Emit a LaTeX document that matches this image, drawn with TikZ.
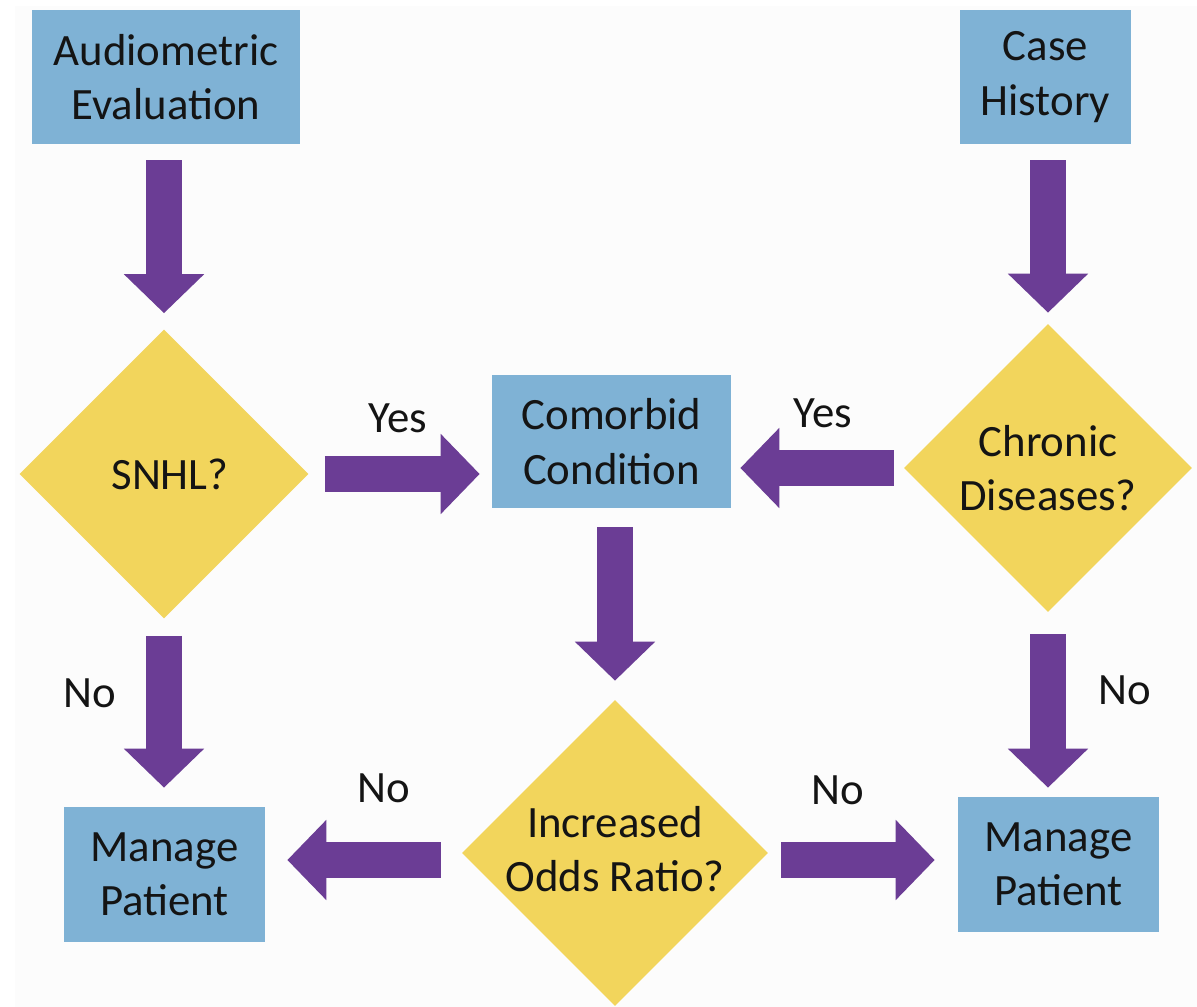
\documentclass[tikz,border=0pt]{standalone}
\usepackage{fontspec}
\setmainfont{Carlito}
\usetikzlibrary{shapes.geometric,arrows.meta}
\definecolor{boxblue}{HTML}{7FB2D5}
\definecolor{diayellow}{HTML}{F2D55C}
\definecolor{flowpurple}{HTML}{6B3D95}
\definecolor{pagegray}{HTML}{FCFCFC}

\begin{document}
\begin{tikzpicture}[x=0.02cm, y=-0.02cm,
        every node/.style={font=\fontsize{25.5}{31}\selectfont, text=black!92, align=center},
        stepbox/.style={fill=boxblue, inner sep=0pt},
        decision/.style={diamond, fill=diayellow, inner sep=0pt, minimum size=#1},
        flow/.style={draw=flowpurple, line width=0.72cm, -{Triangle[width=1.56cm,length=0.78cm]}}]
    \useasboundingbox (0,0) rectangle (1197,1007);
    \fill[pagegray] (0,0) rectangle (1197,1007);
    \fill[white] (0,0) rectangle (15,1007);
    \fill[white] (0,0) rectangle (1197,6);

    \node[stepbox, minimum width=5.36cm, minimum height=2.68cm] (audio) at (166,77) {Audiometric\\Evaluation};
    \node[stepbox, minimum width=3.42cm, minimum height=2.68cm] (history) at (1045.5,77) {Case\\History};
    \node[stepbox, minimum width=4.78cm, minimum height=2.66cm] (comorbid) at (611.5,441.5) {Comorbid\\Condition};
    \node[stepbox, minimum width=4.02cm, minimum height=2.70cm] (manageL) at (164.5,874.5) {Manage\\Patient};
    \node[stepbox, minimum width=4.02cm, minimum height=2.70cm] (manageR) at (1058.5,864.5) {Manage\\Patient};

    \node[decision=5.78cm] (snhl) at (164,474) {};
    \node (snhl-text) at ([xshift=0.12cm]snhl.center) {SNHL?};
    \node[decision=5.76cm] (chronic) at (1048,468) {};
    \node (chronic-text) at (chronic) {Chronic\\Diseases?};
    \node[decision=6.12cm] (odds) at (615,853) {};
    \node (odds-text) at ([yshift=0.08cm]odds.center) {Increased\\Odds Ratio?};

    \draw[flow, shorten <=0.32cm, shorten >=0.32cm] (audio.south -| snhl.north) -- (snhl.north);
    \draw[flow, shorten <=0.32cm, shorten >=0.22cm] (history.south -| chronic.north) -- (chronic.north);
    \draw[flow, shorten <=0.32cm, shorten >=0.24cm] (snhl.east) -- (snhl.east -| comorbid.west);
    \draw[flow, shorten <=0.2cm, shorten >=0.18cm] (chronic.west) -- (chronic.west -| comorbid.east);
    \draw[flow, shorten <=0.38cm, shorten >=0.38cm] (comorbid.south -| odds.north) -- (odds.north);
    \draw[flow, shorten <=0.34cm, shorten >=0.38cm] (snhl.south) -- (snhl.south |- manageL.north);
    \draw[flow, shorten <=0.44cm, shorten >=0.18cm] (chronic.south) -- (chronic.south |- manageR.north);
    \draw[flow, shorten <=0.42cm, shorten >=0.44cm] ([yshift=-0.14cm]odds.west) -- ([yshift=-0.14cm]odds.west -| manageL.east);
    \draw[flow, shorten <=0.26cm, shorten >=0.46cm] ([yshift=-0.14cm]odds.east) -- ([yshift=-0.14cm]odds.east -| manageR.west);

    \node (yes-left) at (398,418) {Yes};
    \node (yes-right) at (823,413) {Yes};
    \node (no-left) at (90,693) {No};
    \node (no-right) at (1125,690) {No};
    \node (no-odds-left) at (384,788) {No};
    \node (no-odds-right) at (838,790) {No};
\end{tikzpicture}
\end{document}
